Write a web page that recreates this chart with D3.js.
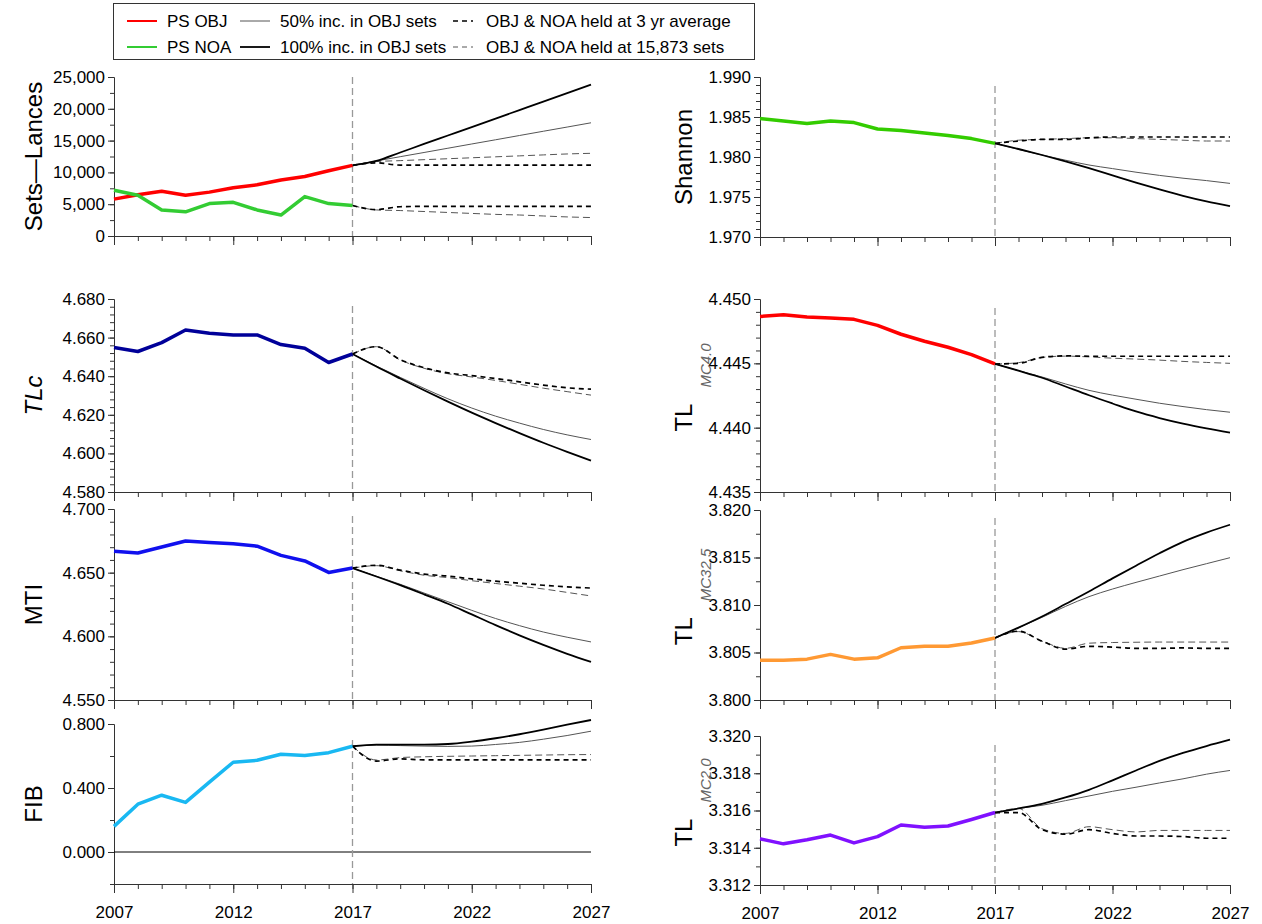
<!DOCTYPE html>
<html><head><meta charset="utf-8">
<script src="https://cdn.jsdelivr.net/npm/d3@7"></script>
<style>
body{margin:0;background:#fff;}
text{font-family:"Liberation Sans",Arial,sans-serif;fill:#000;}
</style></head>
<body><svg id="c" width="1262" height="924"></svg>
<script>
// ---------- DATA ----------
const histYears = [2007,2008,2009,2010,2011,2012,2013,2014,2015,2016,2017];
const projYears = [2017,2018,2019,2020,2021,2022,2023,2024,2025,2026,2027];
const xTickYears = [2007,2012,2017,2022,2027];

// Sets–Lances
const setsObjHist = [5800,6500,7050,6400,6900,7600,8050,8800,9350,10250,11100];
const setsNoaHist = [7200,6400,4100,3800,5100,5300,4100,3300,6200,5100,4800];
const setsObj100 = [11100,11800,13130,14470,15800,17130,18470,19800,21130,22470,23800];
const setsObj50  = [11100,11800,12470,13130,13800,14470,15130,15800,16470,17130,17800];
const setsObj3yr = [11100,11500,11150,11150,11150,11150,11150,11150,11150,11150,11150];
const setsObjFix = [11100,11700,11850,12000,12150,12300,12450,12600,12750,12900,13000];
const setsNoa3yr = [4800,4150,4600,4650,4650,4650,4650,4650,4650,4650,4650];
const setsNoaFix = [4800,4100,4000,3850,3700,3550,3400,3300,3150,3000,2900];

// Shannon
const shanHist = [1.9848,1.9845,1.9842,1.9845,1.9843,1.9835,1.9833,1.9830,1.9827,1.9823,1.9817];
const shan100  = [1.9817,1.9810,1.98025,1.97945,1.9786,1.9777,1.9768,1.97595,1.97515,1.97445,1.97385];
const shan50   = [1.9817,1.98095,1.98025,1.9796,1.9790,1.97855,1.9781,1.9777,1.97735,1.97705,1.9767];
const shan3yr  = [1.9817,1.9820,1.9822,1.9822,1.9824,1.9825,1.9825,1.9825,1.9825,1.9825,1.9825];
const shanFix  = [1.9817,1.9821,1.9822,1.9823,1.9824,1.9824,1.9823,1.9822,1.9821,1.9820,1.9820];

// TLc
const tlcHist = [4.6549,4.6528,4.6574,4.6639,4.6622,4.6614,4.6614,4.6564,4.6545,4.6471,4.6515];
const tlc100  = [4.6515,4.6450,4.6388,4.6327,4.6268,4.6211,4.6157,4.6105,4.6055,4.6008,4.5963];
const tlc50   = [4.6515,4.6453,4.6394,4.6337,4.6283,4.6235,4.6193,4.6157,4.6124,4.6096,4.6072];
const tlc3yr  = [4.6515,4.6553,4.6486,4.6444,4.6417,4.6403,4.6388,4.6371,4.6354,4.6340,4.6333];
const tlcFix  = [4.6515,4.6553,4.6484,4.6441,4.6413,4.6396,4.6378,4.6358,4.6338,4.6320,4.6302];

// TL MC4.0
const mc40Hist = [4.44864,4.44877,4.44861,4.44852,4.44842,4.44795,4.44726,4.44672,4.44625,4.44568,4.44495];
const mc40_100 = [4.44495,4.44443,4.44388,4.44320,4.44252,4.44188,4.44126,4.44075,4.44032,4.43995,4.43962];
const mc40_50  = [4.44495,4.44443,4.44394,4.44340,4.44290,4.44253,4.44221,4.44190,4.44164,4.44140,4.44120];
const mc40_3yr = [4.44495,4.44500,4.44546,4.44558,4.44555,4.44555,4.44555,4.44555,4.44555,4.44555,4.44555];
const mc40Fix  = [4.44495,4.44505,4.44546,4.44556,4.44550,4.44540,4.44533,4.44525,4.44515,4.44507,4.44500];

// MTI
const mtiHist = [4.6668,4.6655,4.6702,4.6749,4.6737,4.6727,4.6708,4.6636,4.6592,4.6502,4.6536];
const mti100  = [4.6536,4.6470,4.6402,4.6330,4.6256,4.6172,4.6088,4.6008,4.5933,4.5863,4.5799];
const mti50   = [4.6536,4.6472,4.6409,4.6340,4.6272,4.6204,4.6140,4.6084,4.6034,4.5993,4.5956];
const mti3yr  = [4.6536,4.6558,4.6520,4.6489,4.6473,4.6451,4.6433,4.6417,4.6401,4.6389,4.6379];
const mtiFix  = [4.6536,4.6555,4.6515,4.6480,4.6461,4.6437,4.6415,4.6394,4.6372,4.6345,4.6317];

// TL MC32.5
const mc325Hist = [3.80418,3.80418,3.80430,3.80480,3.80430,3.80444,3.80550,3.80565,3.80565,3.80600,3.80653];
const mc325_100 = [3.80653,3.80762,3.80879,3.81010,3.81142,3.81280,3.81414,3.81545,3.81665,3.81762,3.81845];
const mc325_50  = [3.80653,3.80760,3.80870,3.80985,3.81088,3.81168,3.81238,3.81305,3.81372,3.81435,3.81498];
const mc325_3yr = [3.80653,3.80724,3.80619,3.80536,3.80565,3.80557,3.80544,3.80544,3.80548,3.80544,3.80544];
const mc325Fix  = [3.80653,3.80720,3.80620,3.80544,3.80598,3.80605,3.80608,3.80610,3.80610,3.80610,3.80610];

// FIB
const fibHist = [0.160,0.299,0.355,0.310,0.437,0.561,0.573,0.611,0.603,0.621,0.661];
const fib100  = [0.661,0.671,0.671,0.671,0.675,0.690,0.711,0.736,0.765,0.796,0.825];
const fib50   = [0.661,0.668,0.665,0.662,0.660,0.662,0.672,0.685,0.705,0.728,0.755];
const fib3yr  = [0.661,0.568,0.582,0.576,0.576,0.576,0.576,0.576,0.576,0.576,0.576];
const fibFix  = [0.661,0.575,0.590,0.595,0.598,0.600,0.602,0.604,0.606,0.608,0.609];

// TL MC2.0
const mc20Hist = [3.31448,3.31421,3.31443,3.31468,3.31426,3.31460,3.31522,3.31510,3.31517,3.31552,3.31589];
const mc20_100 = [3.31589,3.31611,3.31636,3.31670,3.31711,3.31762,3.31815,3.31866,3.31909,3.31946,3.31980];
const mc20_50  = [3.31589,3.31611,3.31628,3.31653,3.31678,3.31703,3.31725,3.31748,3.31770,3.31795,3.31815];
const mc20_3yr = [3.31589,3.31589,3.31497,3.31473,3.31497,3.31477,3.31463,3.31463,3.31460,3.31451,3.31451];
const mc20Fix  = [3.31589,3.31611,3.31502,3.31477,3.31513,3.31497,3.31485,3.31493,3.31493,3.31493,3.31493];

// Legend
const legendLabels = ["PS OBJ","50% inc. in OBJ sets","OBJ & NOA held at 3 yr average",
                      "PS NOA","100% inc. in OBJ sets","OBJ & NOA held at 15,873 sets"];

// ---------- STYLES / LAYOUT ----------
const C = {red:"#ff0000", green:"#33cc33", shan:"#33cc00", navy:"#000099", blue:"#1010ee",
           orange:"#ff9933", cyan:"#19b8f2", purple:"#8011ff"};
const LX = [114, 591], RX = [760, 1230];

const panels = [
  {x:LX, y:[236,77],  dom:[0,25000], major:5000, minor:2500, fmt:d3.format(",.0f"), title:"Sets—Lances",
   hist:[[setsObjHist,C.red],[setsNoaHist,C.green]],
   proj:{p50:[setsObj50], p100:[setsObj100], a3:[setsObj3yr,setsNoa3yr], fix:[setsObjFix,setsNoaFix]}},
  {x:RX, y:[237,77],  dom:[1.970,1.990], major:0.005, minor:0.001, fmt:d3.format(".3f"), title:"Shannon",
   hist:[[shanHist,C.shan]], proj:{p50:[shan50], p100:[shan100], a3:[shan3yr], fix:[shanFix]}, vtop:86},
  {x:LX, y:[492,299], dom:[4.580,4.680], major:0.02, minor:0.004, fmt:d3.format(".3f"), title:"TLc", italic:true,
   hist:[[tlcHist,C.navy]], proj:{p50:[tlc50], p100:[tlc100], a3:[tlc3yr], fix:[tlcFix]}, vtop:306},
  {x:RX, y:[492,299], dom:[4.435,4.450], major:0.005, minor:0.001, fmt:d3.format(".3f"), title:"TL", sub:"MC4.0",
   hist:[[mc40Hist,C.red]], proj:{p50:[mc40_50], p100:[mc40_100], a3:[mc40_3yr], fix:[mc40Fix]}, vtop:308},
  {x:LX, y:[700,509], dom:[4.550,4.700], major:0.05, minor:0.01, fmt:d3.format(".3f"), title:"MTI",
   hist:[[mtiHist,C.blue]], proj:{p50:[mti50], p100:[mti100], a3:[mti3yr], fix:[mtiFix]}, vtop:516},
  {x:RX, y:[700,510], dom:[3.800,3.820], major:0.005, minor:0.0025, fmt:d3.format(".3f"), title:"TL", sub:"MC32.5",
   hist:[[mc325Hist,C.orange]], proj:{p50:[mc325_50], p100:[mc325_100], a3:[mc325_3yr], fix:[mc325Fix]}, vtop:518},
  {x:LX, y:[884,724], dom:[-0.2,0.8], major:0.4, minor:0.2, fmt:d3.format(".3f"), title:"FIB", labelsFrom:0,
   hist:[[fibHist,C.cyan]], proj:{p50:[fib50], p100:[fib100], a3:[fib3yr], fix:[fibFix]}, zero:true, bottom:true, vtop:740},
  {x:RX, y:[885,736], dom:[3.312,3.320], major:0.002, minor:0.001, fmt:d3.format(".3f"), title:"TL", sub:"MC2.0",
   hist:[[mc20Hist,C.purple]], proj:{p50:[mc20_50], p100:[mc20_100], a3:[mc20_3yr], fix:[mc20Fix]}, bottom:true, vtop:745}
];

const svg = d3.select("#c");
const FS = 17;

function stepRange(lo, hi, step){
  const n = Math.round((hi-lo)/step);
  return d3.range(n+1).map(i => +(lo + i*step).toFixed(6));
}

panels.forEach(p => {
  const x = d3.scaleLinear().domain([2007,2027]).range(p.x);
  const y = d3.scaleLinear().domain(p.dom).range(p.y);
  const g = svg.append("g");

  // y axis: minor ticks
  const minorT = stepRange(p.dom[0], p.dom[1], p.minor);
  g.append("g").attr("transform",`translate(${p.x[0]},0)`)
    .call(d3.axisLeft(y).tickValues(minorT).tickSize(4).tickFormat(""))
    .call(a => a.selectAll("line,path").attr("stroke","#333"));
  // y axis: major ticks with labels
  let majorT = stepRange(p.dom[0], p.dom[1], p.major);
  if (p.labelsFrom !== undefined) majorT = stepRange(p.labelsFrom, p.dom[1], p.major);
  g.append("g").attr("transform",`translate(${p.x[0]},0)`)
    .call(d3.axisLeft(y).tickValues(majorT).tickSize(6).tickPadding(3).tickFormat(p.fmt))
    .call(a => a.select(".domain").remove())
    .call(a => a.selectAll("line").attr("stroke","#333"))
    .call(a => a.selectAll("text").style("font-size",FS+"px").style("font-family","Liberation Sans, Arial, sans-serif"));

  // x axis
  const allYears = d3.range(2007, 2028);
  g.append("g").attr("transform",`translate(0,${p.y[0]})`)
    .call(d3.axisBottom(x).tickValues(allYears).tickSize(5).tickFormat(""))
    .call(a => a.selectAll("line,path").attr("stroke","#333"));
  g.append("g").attr("transform",`translate(0,${p.y[0]})`)
    .call(d3.axisBottom(x).tickValues(xTickYears).tickSize(9).tickPadding(13)
      .tickFormat(p.bottom ? d3.format("d") : ""))
    .call(a => a.select(".domain").remove())
    .call(a => a.selectAll("line").attr("stroke","#333"))
    .call(a => a.selectAll("text").style("font-size",FS+"px").style("font-family","Liberation Sans, Arial, sans-serif"));

  if (p.zero) {
    g.append("line").attr("x1",p.x[0]).attr("x2",p.x[1]).attr("y1",y(0)).attr("y2",y(0))
      .attr("stroke","#000").attr("stroke-width",1);
  }

  // 2017 divider
  g.append("line").attr("x1",x(2017)).attr("x2",x(2017))
    .attr("y1", p.vtop || p.y[1]).attr("y2",p.y[0])
    .attr("stroke","#999").attr("stroke-width",1.3).attr("stroke-dasharray","7,4");

  const smooth = d3.line().curve(d3.curveMonotoneX);
  const straight = d3.line();
  const mk = (gen, yrs, vals) => gen(yrs.map((yr,i) => [x(yr), y(vals[i])]));

  p.proj.fix.forEach(v => g.append("path").attr("d",mk(smooth,projYears,v)).attr("fill","none")
    .attr("stroke","#555").attr("stroke-width",1).attr("stroke-dasharray","7,4"));
  p.proj.a3.forEach(v => g.append("path").attr("d",mk(smooth,projYears,v)).attr("fill","none")
    .attr("stroke","#000").attr("stroke-width",1.7).attr("stroke-dasharray","5,4"));
  p.proj.p50.forEach(v => g.append("path").attr("d",mk(smooth,projYears,v)).attr("fill","none")
    .attr("stroke","#555").attr("stroke-width",1));
  p.proj.p100.forEach(v => g.append("path").attr("d",mk(smooth,projYears,v)).attr("fill","none")
    .attr("stroke","#000").attr("stroke-width",1.8));
  p.hist.forEach(([v,col]) => g.append("path").attr("d",mk(straight,histYears,v)).attr("fill","none")
    .attr("stroke",col).attr("stroke-width",3.5).attr("stroke-linejoin","round"));

  // title
  const cy = (p.y[0]+p.y[1])/2 - (p.sub ? 8 : 0);
  const tx = p.x[0] === LX[0] ? 42 : 692;
  const t = g.append("text").attr("transform",`translate(${tx},${cy}) rotate(-90)`)
    .attr("text-anchor","middle").style("font-size","24px");
  if (p.italic) t.style("font-style","italic");
  t.append("tspan").text(p.title);
  if (p.sub) {
    t.append("tspan").text(p.sub).attr("dx",16).attr("dy",19).style("font-size","15px")
      .style("font-style","italic").style("fill","#666");
  }
});

// ---------- LEGEND ----------
const lg = svg.append("g");
lg.append("rect").attr("x",113.5).attr("y",3.5).attr("width",641).attr("height",56)
  .attr("fill","#fff").attr("stroke","#333").attr("stroke-width",1);
const legStyles = [
  {stroke:C.red, w:2, dash:null}, {stroke:"#555", w:1, dash:null}, {stroke:"#000", w:1.7, dash:"5,4"},
  {stroke:C.green, w:2, dash:null}, {stroke:"#000", w:1.8, dash:null}, {stroke:"#555", w:1, dash:"5,4"}
];
const colX = [127, 240, 453], rowY = [21, 47];
legendLabels.forEach((lab,i) => {
  const cx = colX[i%3], ry = rowY[Math.floor(i/3)];
  const s = legStyles[i];
  const len = (i%3===2) ? 20 : 30;
  const l = lg.append("line").attr("x1",cx).attr("x2",cx+len).attr("y1",ry).attr("y2",ry)
    .attr("stroke",s.stroke).attr("stroke-width",s.w);
  if (s.dash) l.attr("stroke-dasharray",s.dash);
  lg.append("text").attr("x", cx + len + (i%3===2 ? 13 : 10)).attr("y", ry+6)
    .style("font-size","17px").text(lab);
});
</script>
</body></html>
